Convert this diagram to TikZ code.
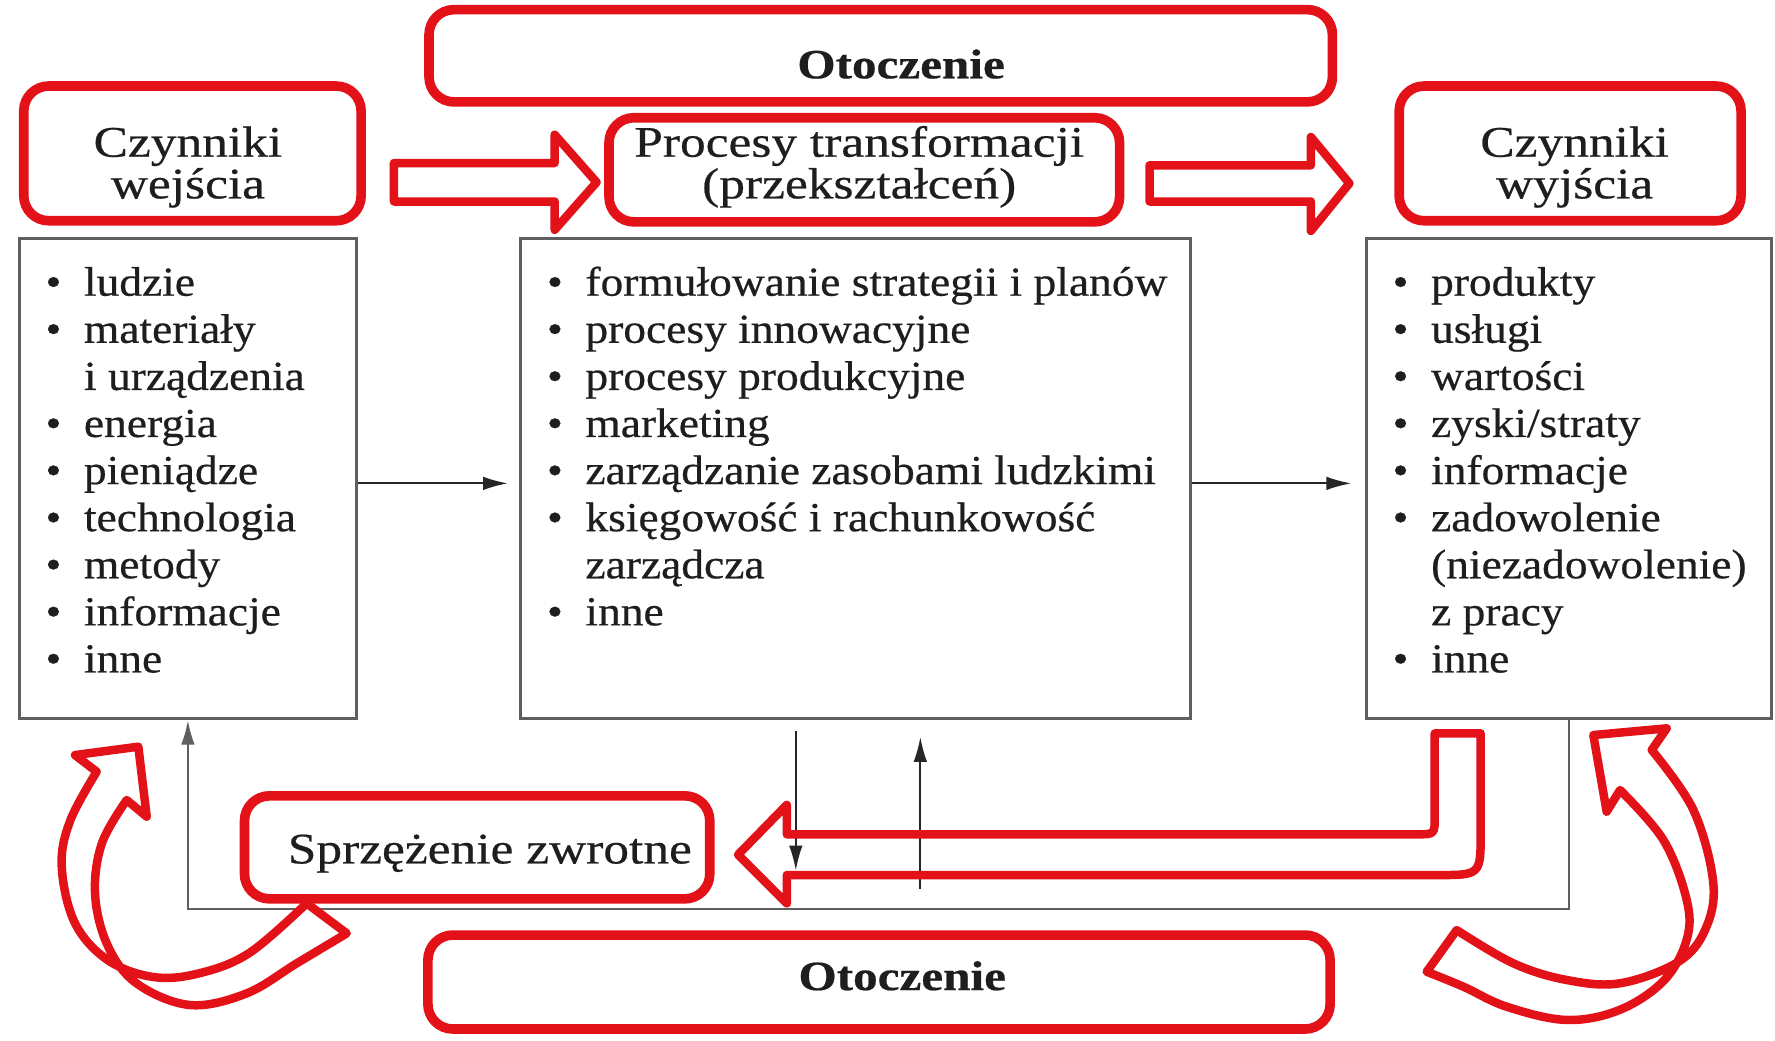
\documentclass[tikz,border=0pt]{standalone}
\usepackage{fontspec}
\setmainfont{Liberation Serif}[FakeStretch=1.18, FakeBold=0.5]
\newfontfamily\listfont{Liberation Serif}[FakeStretch=1.1, FakeBold=0.5]
\usetikzlibrary{arrows.meta}
\definecolor{rd}{RGB}{226,18,24}
\definecolor{txt}{RGB}{30,30,30}
\definecolor{frm}{RGB}{95,95,95}
\newcommand\lbul{\makebox[34pt][l]{•}}
\tikzset{
 hbox/.style={draw=rd, line width=8.5pt, rounded corners=22pt, fill=white, inner sep=0pt},
 listbox/.style={draw=frm, line width=2.5pt, fill=white, inner sep=0pt},
 htext/.style={anchor=base, inner sep=0pt, text=txt, font=\fontsize{38.5}{37}\selectfont},
 otext/.style={anchor=base, inner sep=0pt, text=txt, font=\fontsize{36.8}{37}\selectfont\bfseries},
 listtext/.style={anchor=north west, inner sep=0pt, text=txt, font=\listfont\fontsize{36.5}{41.6}\selectfont},
 conn/.style={draw=black!85, line width=1.8pt, -{Latex[length=22pt,width=12pt]}},
 fb/.style={draw=frm, line width=2.5pt},
 harrow/.style={draw=rd, line width=7.5pt, line join=round, fill=white},
 hollow/.style={draw=rd, line width=7.5pt, line join=round},
}
\begin{document}
\begin{tikzpicture}[x=1pt,y=-1pt]
\fill[white] (0,0) rectangle (1568,919);
\useasboundingbox (0,0) rectangle (1568,919);

% header boxes
\node[hbox, minimum width=798pt, minimum height=81.5pt] (topot) at (778,49.25) {};
\node[hbox, minimum width=298pt, minimum height=119pt] (inbox) at (170,135.5) {};
\node[hbox, minimum width=451pt, minimum height=92pt] (procbox) at (763.5,150) {};
\node[hbox, minimum width=302pt, minimum height=119pt] (outbox) at (1387,135.5) {};
\node[hbox, minimum width=411pt, minimum height=91pt] (sprz) at (421.5,748.5) {};
\node[hbox, minimum width=797pt, minimum height=83pt] (botot) at (776.5,867.5) {};

% header texts
\node[otext] (ot1) at (796,69.2) {Otoczenie};
\node[otext] (ot2) at (797,874.6) {Otoczenie};
\node[htext] (in1) at (166,138.4) {Czynniki};
\node[htext] (in2) at (166,175.2) {wejścia};
\node[htext] (pr1) at (759,138.4) {Procesy transformacji};
\node[htext] (pr2) at (759,175.2) {(przekształceń)};
\node[htext] (out1) at (1391,138.4) {Czynniki};
\node[htext] (out2) at (1391,175.2) {wyjścia};
\node[htext] (sztxt) at (432.7,762.7) {Sprzężenie zwrotne};

% list boxes
\node[listbox, minimum width=298pt, minimum height=424pt] (lbox) at (166,422.5) {};
\node[listbox, minimum width=592pt, minimum height=424pt] (cbox) at (756,422.5) {};
\node[listbox, minimum width=358pt, minimum height=424pt] (rbox) at (1386,422.5) {};

\node[listtext] (llist) at (40,231.9) {\begin{tabular}{@{}l@{}l@{}}
\lbul & ludzie\\
\lbul & materiały\\
 & i urządzenia\\
\lbul & energia\\
\lbul & pieniądze\\
\lbul & technologia\\
\lbul & metody\\
\lbul & informacje\\
\lbul & inne
\end{tabular}};
\node[listtext] (clist) at (483,231.9) {\begin{tabular}{@{}l@{}l@{}}
\lbul & formułowanie strategii i planów\\
\lbul & procesy innowacyjne\\
\lbul & procesy produkcyjne\\
\lbul & marketing\\
\lbul & zarządzanie zasobami ludzkimi\\
\lbul & księgowość i rachunkowość\\
 & zarządcza\\
\lbul & inne
\end{tabular}};
\node[listtext] (rlist) at (1230,231.9) {\begin{tabular}{@{}l@{}l@{}}
\lbul & produkty\\
\lbul & usługi\\
\lbul & wartości\\
\lbul & zyski/straty\\
\lbul & informacje\\
\lbul & zadowolenie\\
 & (niezadowolenie)\\
 & z pracy\\
\lbul & inne
\end{tabular}};

% thin connectors
\draw[conn, shorten >=10pt] ([yshift=-4.5pt]lbox.east) -- ([yshift=-4.5pt]cbox.west);
\draw[conn, shorten >=12pt] ([yshift=-4.5pt]cbox.east) -- ([yshift=-4.5pt]rbox.west);
\coordinate (fby) at (0,803);
\draw[fb, -{Latex[length=22pt,width=12pt]}] (rbox.south) -- (rbox.south |- fby) -| (lbox.south);
\coordinate (dA) at (703,646);
\coordinate (dB) at (703,769);
\coordinate (uA) at (813,785);
\coordinate (uB) at (813,651);
\draw[conn] (dA) -- (dB);
\draw[conn] (uA) -- (uB);

% red hollow arrows (top)
\draw[harrow] (348,144) -- (490,144) -- (490,119) -- (527,161) -- (490,203) -- (490,178) -- (348,178) -- cycle;
\draw[harrow] (1015.5,146) -- (1158,146) -- (1158,121) -- (1192,162) -- (1158,204) -- (1158,178) -- (1015.5,178) -- cycle;

% feedback big hollow arrow
\draw[hollow] (1267.4,647.8) -- (1308,647.8) -- (1308,735) .. controls (1308,773) .. (1270,773)
  -- (695,773) -- (695,798) -- (652,755) -- (695,711) -- (695,737) -- (1252,737)
  .. controls (1267.4,737) .. (1267.4,721) -- cycle;

% left curved arrow
\draw[harrow] (122.2,659.6) -- (66.3,667) -- (85.4,681.7)
  -- plot[smooth, tension=0.6] coordinates {(85.4,681.7) (62,725) (54.5,765) (66,815) (95,848) (135,863) (175,860) (220,842) (270.9,798)}
  -- (306.3,824.5)
  -- plot[smooth, tension=0.6] coordinates {(306.3,824.5) (262.1,851) (217.9,877.5) (167.8,887.8) (120.7,868.7) (95,835) (84,790) (90,745) (111.9,706.7)}
  -- (129.6,721.4) -- cycle;

% right curved arrow
\draw[harrow] (1407.5,649.3) -- (1472.3,643.4) -- (1459.1,662.5)
  -- plot[smooth, tension=0.6] coordinates {(1459.1,662.5) (1495.9,715.5) (1513.5,780.3) (1506,822) (1482,850) (1431,868.6) (1384,865.7) (1336.9,851) (1286.8,821.6)}
  -- (1260.3,858.4)
  -- plot[smooth, tension=0.6] coordinates {(1260.3,858.4) (1292.7,871.6) (1331,889.3) (1384,901) (1431,892) (1470,866) (1490,830) (1490,795) (1469.4,742) (1431.1,697.9)}
  -- (1419.3,717) -- cycle;
\end{tikzpicture}
\end{document}
